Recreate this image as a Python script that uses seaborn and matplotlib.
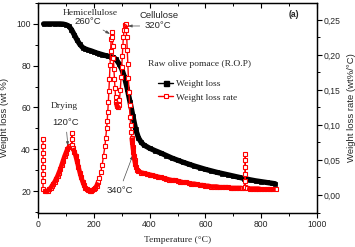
import matplotlib
matplotlib.use('Agg')
import matplotlib.pyplot as plt
from matplotlib.lines import Line2D
from matplotlib.ticker import MultipleLocator, FuncFormatter
import pandas as pd
import seaborn as sns


# weight loss curve (left axis)
temp_loss = [20, 40, 60, 80, 90, 100, 110, 120, 130, 140, 150, 160, 170, 180, 190,
             200, 210, 220, 230, 240, 250, 260, 270, 280, 290, 300, 310, 320, 330,
             340, 350, 360, 370, 380, 400, 420, 440, 460, 480, 500, 520, 540, 560,
             580, 600, 620, 640, 660, 680, 700, 720, 740, 760, 780, 800, 820, 840, 850]
weight_loss = [100, 100, 100, 100, 99.9, 99.6, 99, 97.3, 94.8, 92.3, 90.2, 88.7, 88,
               87.5, 87.1, 86.6, 86.1, 85.7, 85.3, 84.9, 84.6, 84.3, 84, 83, 81, 78.5,
               74.5, 69, 62.5, 56, 49.5, 45.5, 43.3, 42, 40.5, 39.3, 38.2, 37, 35.8,
               34.8, 33.8, 32.9, 32, 31.2, 30.4, 29.7, 29, 28.4, 27.8, 27.2, 26.6, 26,
               25.4, 24.9, 24.5, 24.1, 23.7, 23.5]

# weight loss rate curve (right axis)
temp_rate = [18, 18, 18, 18, 18, 18, 18, 18,
             25, 30, 35, 40, 45, 50, 55, 60, 65, 70, 75, 80, 85, 90, 95, 100, 105,
             110, 115, 121, 121, 121, 121, 125, 130, 135, 140, 145, 150, 155, 160,
             165, 170, 175, 180, 185, 190, 195, 200, 205, 210, 215, 220, 225, 230,
             235, 240, 243, 246, 248, 250, 252, 254, 256, 258, 260, 262, 264, 266,
             268, 270, 272, 274, 276, 278, 280, 283, 286, 289, 292, 295, 298, 300,
             302, 304, 306, 308, 311, 314, 316, 318, 320, 322, 324, 326, 328, 330,
             332, 334, 336, 338, 340, 342, 344, 346, 349, 352, 356, 360, 370, 380,
             390, 400, 410, 420, 430, 440, 450, 460, 470, 480, 490, 500, 510, 520,
             530, 540, 550, 560, 570, 580, 590, 600, 610, 620, 630, 640, 650, 660,
             670, 680, 690, 700, 710, 720, 730, 737,
             743, 743, 743, 743, 743, 743,
             750, 760, 770, 780, 790, 800, 810, 820, 830, 840, 852]
loss_rate = [0.080, 0.070, 0.060, 0.050, 0.040, 0.030, 0.020, 0.008,
             0.005, 0.005, 0.006, 0.008, 0.010, 0.013, 0.016, 0.019, 0.023, 0.027,
             0.032, 0.037, 0.043, 0.049, 0.055, 0.060, 0.065, 0.068, 0.070, 0.071,
             0.080, 0.089, 0.072, 0.067, 0.062, 0.056, 0.048, 0.040, 0.032, 0.025,
             0.019, 0.014, 0.010, 0.008, 0.007, 0.006, 0.006, 0.007, 0.008, 0.010,
             0.013, 0.018, 0.024, 0.033, 0.043, 0.056, 0.070, 0.082, 0.095, 0.105,
             0.118, 0.132, 0.148, 0.165, 0.185, 0.205, 0.222, 0.232, 0.225, 0.212,
             0.195, 0.180, 0.165, 0.152, 0.140, 0.133, 0.127, 0.125, 0.128, 0.136,
             0.150, 0.168, 0.182, 0.198, 0.212, 0.225, 0.235, 0.242, 0.244, 0.236,
             0.225, 0.207, 0.187, 0.167, 0.147, 0.128, 0.112, 0.100, 0.090, 0.082,
             0.075, 0.068, 0.062, 0.056, 0.050, 0.044, 0.040, 0.036, 0.034, 0.032,
             0.031, 0.030, 0.029, 0.028, 0.027, 0.026, 0.025, 0.024, 0.023, 0.022,
             0.021, 0.021, 0.020, 0.019, 0.018, 0.018, 0.017, 0.016, 0.016, 0.015,
             0.014, 0.014, 0.013, 0.013, 0.012, 0.012, 0.012, 0.011, 0.011, 0.011,
             0.011, 0.010, 0.010, 0.010, 0.010, 0.010, 0.010,
             0.020, 0.030, 0.040, 0.050, 0.059, 0.012,
             0.010, 0.009, 0.009, 0.009, 0.009, 0.008, 0.008, 0.008, 0.008, 0.008, 0.008]

SERIF = ['Liberation Serif', 'DejaVu Serif']
SANS = ['Liberation Sans', 'DejaVu Sans']


def comma_fmt(v, pos):
    return f"{v:.2f}".replace('.', ',')


def smooth_runs(temps, rates, max_step=0.0085):
    # the dense recording merges into a solid band where the rate changes slowly
    df = pd.DataFrame({'temp': temps, 'rate': rates})
    jump = df['rate'].diff().abs() > max_step
    steep = jump | jump.shift(-1, fill_value=False)
    df['seg'] = steep.cumsum()
    return df[~steep]


def main():
    sns.set_style('ticks')
    plt.rcParams['font.family'] = SERIF

    fig = plt.figure(figsize=(3.55, 2.47), dpi=100)
    ax = fig.add_axes([38 / 355, 1 - 213 / 247, 279 / 355, 210 / 247])
    ax2 = ax.twinx()

    sns.lineplot(x=temp_loss, y=weight_loss, ax=ax, sort=False, estimator=None,
                 color='black', lw=3.8, marker='s', markersize=3.0,
                 markeredgecolor='black', markeredgewidth=0.5, legend=False)
    sns.lineplot(x=temp_rate, y=loss_rate, ax=ax2, sort=False, estimator=None,
                 color='red', lw=1.0, marker='s', markersize=3.1,
                 markerfacecolor='white', markeredgecolor='red',
                 markeredgewidth=0.8, legend=False)
    band = smooth_runs(temp_rate, loss_rate)
    sns.lineplot(data=band, x='temp', y='rate', units='seg', ax=ax2, sort=False,
                 estimator=None, color='red', lw=3.4, legend=False,
                 solid_capstyle='butt')

    ax.set_xlim(0, 1000)
    ax.set_ylim(9.5, 110)
    ax2.set_ylim(-0.0257, 0.274)
    ax2.set_xlabel('')
    ax2.set_ylabel('')

    ax.xaxis.set_major_locator(MultipleLocator(200))
    ax.xaxis.set_minor_locator(MultipleLocator(100))
    ax.yaxis.set_major_locator(MultipleLocator(20))
    ax.yaxis.set_minor_locator(MultipleLocator(10))
    ax2.yaxis.set_major_locator(MultipleLocator(0.05))
    ax2.yaxis.set_minor_locator(MultipleLocator(0.025))
    ax2.yaxis.set_major_formatter(FuncFormatter(comma_fmt))

    for a in (ax, ax2):
        for side in a.spines:
            a.spines[side].set_linewidth(0.9)
            a.spines[side].set_color('black')
        a.tick_params(which='major', length=3.5, width=0.8, labelsize=6.2,
                      labelfontfamily=SANS, pad=1.5, color='black', direction='out')
        a.tick_params(which='minor', length=2, width=0.7, color='black', direction='out')
    ax.tick_params(axis='x', which='both', top=False)

    # top ticks (inward) drawn by the twin's x axis
    ax2.xaxis.set_visible(True)
    ax2.tick_params(axis='x', which='major', length=3.5, width=0.8)
    ax2.tick_params(axis='x', which='minor', length=2, width=0.7)
    ax2.tick_params(axis='x', which='both', bottom=False, labelbottom=False,
                    top=True, labeltop=False, direction='in', color='black')

    ax.set_xlabel('Temperature (°C)', fontsize=6.8, family=SERIF)
    ax.set_ylabel('Weight loss (wt %)', fontsize=6.8, family=SANS)
    ax2.set_ylabel('Weight loss rate (wt%/°C)', fontsize=6.8, family=SANS)
    ax.xaxis.set_label_coords(0.5, -0.11)
    ax.yaxis.set_label_coords(-0.104, 0.457)
    ax2.yaxis.set_label_coords(1.107, 0.5)

    # legend
    handles = [Line2D([], [], color='black', lw=1, marker='s', markersize=3.6),
               Line2D([], [], color='red', lw=1, marker='s', markersize=3.2,
                      markerfacecolor='white', markeredgewidth=0.8)]
    ax2.legend(handles, ['Weight loss', 'Weight loss rate'], loc='upper left',
               bbox_to_anchor=(0.43, 0.635), frameon=False, borderpad=0,
               fontsize=6.8, handlelength=1.6, handletextpad=0.35,
               labelspacing=0.5, borderaxespad=0)
    ax.text(394, 80.8, 'Raw olive pomace (R.O.P)', fontsize=6.8, family=SERIF,
            ha='left', va='center')

    arrow = dict(arrowstyle='-|>,head_length=0.35,head_width=0.12', lw=0.5,
                 color='0.3', shrinkA=1, shrinkB=0)
    ax.text(186, 105.4, 'Hemicellulose', fontsize=6.8, family=SERIF, ha='center', va='center')
    ax.annotate('260°C', xy=(258, 95.2), xytext=(179, 101.1), fontsize=6.8, family=SANS,
                ha='center', va='center', arrowprops=arrow)
    ax.text(433, 104.0, 'Cellulose', fontsize=6.8, family=SANS, ha='center', va='center')
    ax.annotate('320°C', xy=(322, 99), xytext=(429, 99.0), fontsize=6.8, family=SANS,
                ha='center', va='center', arrowprops=arrow)
    ax.text(93, 60.7, 'Drying', fontsize=6.8, family=SERIF, ha='center', va='center')
    ax.annotate('120°C', xy=(107, 41.6), xytext=(100, 52.6), fontsize=6.8, family=SANS,
                ha='center', va='center', arrowprops=arrow)
    ax.annotate('340°C', xy=(340, 37.2), xytext=(293, 20.5), fontsize=6.8, family=SANS,
                ha='center', va='center', arrowprops=arrow)
    ax.text(918, 104.3, '(a)', fontsize=6.2, family=SANS, weight='bold',
            ha='center', va='center')

    fig.savefig('out.png', dpi=100)
    plt.close(fig)


if __name__ == "__main__":
    main()
